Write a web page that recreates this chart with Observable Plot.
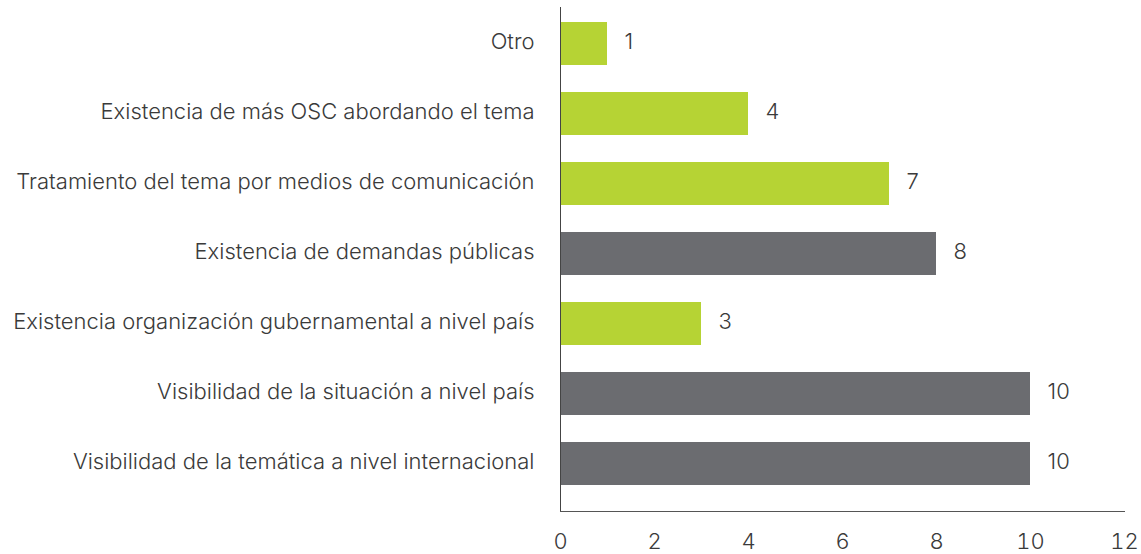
<!DOCTYPE html>
<html>
<head>
<meta charset="utf-8">
<script src="https://cdn.jsdelivr.net/npm/d3@7"></script>
<script src="https://cdn.jsdelivr.net/npm/@observablehq/plot@0.6"></script>
<style>
  html, body { margin: 0; padding: 0; background: #fff; }
  #chart svg { font-family: Inter, "Open Sans", sans-serif; font-weight: 300; }
</style>
</head>
<body>
<div id="chart"></div>
<script>
const categories = [
  "Otro",
  "Existencia de más OSC abordando el tema",
  "Tratamiento del tema por medios de comunicación",
  "Existencia de demandas públicas",
  "Existencia organización gubernamental a nivel país",
  "Visibilidad de la situación a nivel país",
  "Visibilidad de la temática a nivel internacional"
];
const values = [1, 4, 7, 8, 3, 10, 10];
const highlight = [false, false, false, true, false, true, true];
const xTicks = [0, 2, 4, 6, 8, 10, 12];

const data = categories.map((c, i) => ({category: c, value: values[i], dark: highlight[i]}));

const chart = Plot.plot({
  width: 1141,
  height: 554,
  marginLeft: 560,
  marginRight: 17,
  marginTop: 7,
  marginBottom: 43,
  style: {fontSize: "22px", color: "#3a3a3a", background: "#fff"},
  x: {domain: [0, 12], ticks: xTicks, label: null},
  y: {domain: categories, paddingInner: 0.39, paddingOuter: 0.195, insetBottom: 12, label: null},
  color: {domain: [false, true], range: ["#b6d334", "#6b6c70"]},
  marks: [
    Plot.barX(data, {x: "value", y: "category", fill: "dark"}),
    Plot.text(data, {x: "value", y: "category", text: d => String(d.value), dx: 17, dy: -2, textAnchor: "start", fontSize: 22, fill: "#3a3a3a"}),
    Plot.ruleX([0], {stroke: "#444"}),
    Plot.frame({anchor: "bottom", stroke: "#555", strokeOpacity: 1}),
    Plot.axisY({tickSize: 0, tickPadding: 26, dy: -2, fontSize: 22, label: null}),
    Plot.axisX({ticks: xTicks, tickSize: 0, tickPadding: 22, fontSize: 22, label: null})
  ]
});
document.getElementById("chart").appendChild(chart);
</script>
</body>
</html>
